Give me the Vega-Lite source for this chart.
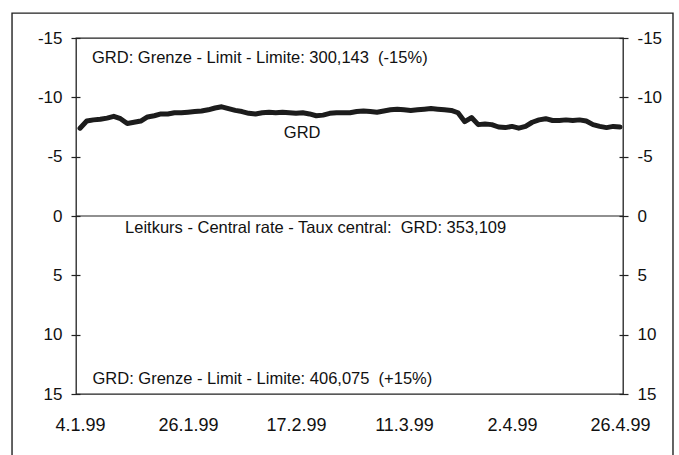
{
  "$schema": "https://vega.github.io/schema/vega-lite/v6.json",
  "autosize": {"type": "none"},
  "padding": {"left": 76, "top": 38, "right": 56, "bottom": 61},
  "width": 547,
  "height": 356,
  "background": "white",
  "config": {
    "view": {"stroke": "#222", "strokeWidth": 1.3},
    "font": "Liberation Sans",
    "axis": {"labelFont": "Liberation Sans", "labelColor": "#111", "grid": false, "title": null, "ticks": true, "tickOpacity": 1}
  },
  "datasets": {
    "grd": [
      {"t":0,"v":-7.4},{"t":1,"v":-8.0},{"t":2,"v":-8.1},{"t":3,"v":-8.15},{"t":4,"v":-8.25},
      {"t":5,"v":-8.4},{"t":6,"v":-8.2},{"t":7,"v":-7.8},{"t":8,"v":-7.9},{"t":9,"v":-8.0},
      {"t":10,"v":-8.35},{"t":11,"v":-8.45},{"t":12,"v":-8.6},{"t":13,"v":-8.6},{"t":14,"v":-8.7},
      {"t":15,"v":-8.7},{"t":16,"v":-8.75},{"t":17,"v":-8.8},{"t":18,"v":-8.85},{"t":19,"v":-8.95},
      {"t":20,"v":-9.1},{"t":21,"v":-9.2},{"t":22,"v":-9.05},{"t":23,"v":-8.9},{"t":24,"v":-8.8},
      {"t":25,"v":-8.65},{"t":26,"v":-8.6},{"t":27,"v":-8.7},{"t":28,"v":-8.75},{"t":29,"v":-8.7},
      {"t":30,"v":-8.75},{"t":31,"v":-8.7},{"t":32,"v":-8.65},{"t":33,"v":-8.7},{"t":34,"v":-8.6},
      {"t":35,"v":-8.45},{"t":36,"v":-8.5},{"t":37,"v":-8.65},{"t":38,"v":-8.7},{"t":39,"v":-8.7},
      {"t":40,"v":-8.7},{"t":41,"v":-8.8},{"t":42,"v":-8.85},{"t":43,"v":-8.8},{"t":44,"v":-8.75},
      {"t":45,"v":-8.85},{"t":46,"v":-8.95},{"t":47,"v":-9.0},{"t":48,"v":-8.95},{"t":49,"v":-8.9},
      {"t":50,"v":-8.95},{"t":51,"v":-9.0},{"t":52,"v":-9.05},{"t":53,"v":-9.0},{"t":54,"v":-8.95},
      {"t":55,"v":-8.9},{"t":56,"v":-8.7},{"t":57,"v":-7.95},{"t":58,"v":-8.3},{"t":59,"v":-7.7},
      {"t":60,"v":-7.75},{"t":61,"v":-7.7},{"t":62,"v":-7.5},{"t":63,"v":-7.45},{"t":64,"v":-7.55},
      {"t":65,"v":-7.4},{"t":66,"v":-7.55},{"t":67,"v":-7.9},{"t":68,"v":-8.1},{"t":69,"v":-8.2},
      {"t":70,"v":-8.05},{"t":71,"v":-8.05},{"t":72,"v":-8.1},{"t":73,"v":-8.05},{"t":74,"v":-8.1},
      {"t":75,"v":-8.0},{"t":76,"v":-7.7},{"t":77,"v":-7.55},{"t":78,"v":-7.45},{"t":79,"v":-7.55},
      {"t":80,"v":-7.5}
    ],
    "notes": [
      {"t": 1.78, "v": -13.3, "label": "GRD: Grenze - Limit - Limite: 300,143\u00a0 (-15%)"},
      {"t": 30.2, "v": -7.0, "label": "GRD"},
      {"t": 6.67, "v": 1.0, "label": "Leitkurs - Central rate - Taux central:\u00a0 GRD: 353,109"},
      {"t": 1.85, "v": 13.7, "label": "GRD: Grenze - Limit - Limite: 406,075\u00a0 (+15%)"}
    ],
    "central": [{"v": 0}],
    "frame": [{"x0": -10.07, "x1": 87.85, "y0": -17.1, "y1": 21.5}]
  },
  "resolve": {"axis": {"x": "independent", "y": "independent"}},
  "layer": [
    {
      "data": {"name": "frame"},
      "mark": {"type": "rect", "filled": false, "fill": "transparent", "stroke": "#222", "strokeWidth": 1.4, "clip": false},
      "encoding": {
        "x": {"field": "x0", "type": "quantitative", "axis": null},
        "x2": {"field": "x1"},
        "y": {"field": "y0", "type": "quantitative", "axis": null},
        "y2": {"field": "y1"}
      }
    },
    {
      "data": {"name": "grd"},
      "mark": {"type": "line", "color": "#1c1c1c", "strokeWidth": 5, "strokeJoin": "round", "strokeCap": "round"},
      "encoding": {
        "x": {
          "field": "t", "type": "quantitative",
          "scale": {"domain": [-0.593, 80.444], "nice": false, "zero": false},
          "axis": {
            "orient": "bottom", "values": [0,16,32,48,64,80],
            "labelExpr": "['4.1.99','26.1.99','17.2.99','11.3.99','2.4.99','26.4.99'][round(datum.value/16)]",
            "ticks": false, "tickSize": 0, "domain": false, "labelFontSize": 18,
            "labelPadding": 22, "labelFlush": false, "labelOverlap": false
          }
        },
        "y": {
          "field": "v", "type": "quantitative",
          "scale": {"domain": [-15, 15], "reverse": true, "nice": false, "zero": false},
          "axis": {
            "orient": "left", "values": [-15,-10,-5,0,5,10,15], "offset": -4,
            "labelExpr": "'' + datum.value",
            "domain": false, "ticks": true, "tickSize": 9, "tickColor": "#222", "tickWidth": 1.2,
            "labelFontSize": 17, "labelPadding": 9, "labelFlush": false, "labelOverlap": false
          }
        }
      }
    },
    {
      "data": {"name": "central"},
      "mark": {"type": "rule", "color": "#222", "strokeWidth": 1.2},
      "encoding": {
        "y": {
          "field": "v", "type": "quantitative",
          "axis": {
            "orient": "right", "values": [-15,-10,-5,0,5,10,15], "offset": -4,
            "labelExpr": "'' + datum.value",
            "domain": false, "ticks": true, "tickSize": 9, "tickColor": "#222", "tickWidth": 1.2,
            "labelFontSize": 17, "labelPadding": 9, "labelFlush": false, "labelOverlap": false
          }
        }
      }
    },
    {
      "data": {"name": "notes"},
      "mark": {"type": "text", "align": "left", "baseline": "middle", "fontSize": 16.5, "color": "#111", "font": "Liberation Sans"},
      "encoding": {
        "x": {"field": "t", "type": "quantitative", "axis": null},
        "y": {"field": "v", "type": "quantitative", "axis": null},
        "text": {"field": "label"}
      }
    }
  ]
}
